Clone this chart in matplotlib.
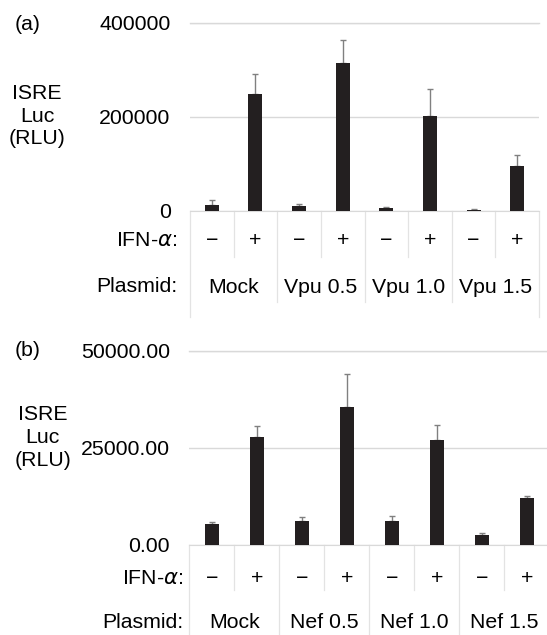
import matplotlib
matplotlib.use('Agg')
from matplotlib import pyplot as plt
import numpy as np

plt.rcParams['font.family'] = ['Liberation Sans', 'DejaVu Sans']
plt.rcParams['mathtext.fontset'] = 'dejavusans'

# panel (a): Vpu
vpu_groups = ['Mock', 'Vpu 0.5', 'Vpu 1.0', 'Vpu 1.5']
vpu_minus = [12800, 10600, 6400, 2100]
vpu_minus_err = [9300, 3700, 2100, 700]
vpu_plus = [248900, 313600, 201500, 95100]
vpu_plus_err = [42600, 49000, 56800, 23400]

# panel (b): Nef
nef_groups = ['Mock', 'Nef 0.5', 'Nef 1.0', 'Nef 1.5']
nef_minus = [5410, 6190, 6110, 2580]
nef_minus_err = [350, 950, 1210, 510]
nef_plus = [27760, 35570, 26980, 11960]
nef_plus_err = [2910, 8500, 3790, 670]

W, H = 547, 635
FS = 15.3
BAR = '#231f20'
GRID = '#d9d9d9'
ERR = '#808080'

fig = plt.figure(figsize=(W/100, H/100), dpi=100)

def px(x, y):
    return x/W, 1 - y/H

def panel(rect, groups, minus, minus_err, plus, plus_err, ymax, ticks, labels,
          ifn_y, plas_y, short_y, group_y, edge_y):
    ax = fig.add_axes(rect)
    vals = []
    errs = []
    for m, me, p, pe in zip(minus, minus_err, plus, plus_err):
        vals += [m, p]
        errs += [me, pe]
    vals = np.array(vals)
    errs = np.array(errs)
    x = np.arange(len(vals))
    ax.bar(x, vals, width=0.32, color=BAR, zorder=3)
    ax.errorbar(x, vals, yerr=[np.zeros_like(errs), errs], fmt='none',
                ecolor=ERR, elinewidth=1, capsize=2.5, capthick=1, zorder=2)
    ax.set_xlim(-0.5, len(vals) - 0.5)
    ax.set_ylim(0, ymax)
    ax.set_yticks(ticks)
    ax.set_yticklabels(labels, fontsize=FS)
    ax.tick_params(axis='y', length=0, pad=14)
    ax.set_xticks([])
    ax.grid(axis='y', color=GRID, lw=1, zorder=0)
    for s in ['left', 'right', 'top']:
        ax.spines[s].set_visible(False)
    ax.spines['bottom'].set_color(GRID)
    ax.axhline(ymax, color=GRID, lw=1, zorder=0, clip_on=False)

    tr = ax.get_xaxis_transform()
    for k in range(len(vals) + 1):
        xk = k - 0.5
        if k == 0 or k == len(vals):
            yb = edge_y
        elif k % 2 == 0:
            yb = group_y
        else:
            yb = short_y
        ax.plot([xk, xk], [0, yb], color='#e3e3e3', lw=0.9,
                transform=tr, clip_on=False)
    for i in range(len(vals)):
        ax.text(i, ifn_y, '\u2212' if i % 2 == 0 else '+', transform=tr,
                ha='center', va='center', fontsize=FS)
    for g, name in enumerate(groups):
        ax.text(2*g + 0.5, plas_y, name, transform=tr,
                ha='center', va='center', fontsize=FS)
    return ax

# (a)
panel([190/W, 1 - 210.7/H, 349/W, 188/H], vpu_groups, vpu_minus, vpu_minus_err,
      vpu_plus, vpu_plus_err, 400000, [0, 200000, 400000],
      ['0', '200000', '400000'],
      -0.16, -0.41, -0.245, -0.484, -0.564)
fig.text(*px(15, 24), '(a)', ha='left', va='center', fontsize=FS)
fig.text(*px(37, 116), 'ISRE\nLuc\n(RLU)', ha='center', va='center',
         fontsize=FS, linespacing=1.25)
fig.text(*px(177, 240.7), r'IFN-$\alpha$:', ha='right', va='center', fontsize=FS)
fig.text(*px(177, 287), 'Plasmid:', ha='right', va='center', fontsize=FS)

# (b)
panel([189.3/W, 1 - 544.7/H, 360/W, 194/H], nef_groups, nef_minus, nef_minus_err,
      nef_plus, nef_plus_err, 50000, [0, 25000, 50000],
      ['0.00', '25000.00', '50000.00'],
      -0.173, -0.40, -0.2335, -0.48, -0.48)
fig.text(*px(15, 351), '(b)', ha='left', va='center', fontsize=FS)
fig.text(*px(42.7, 437.3), 'ISRE\nLuc\n(RLU)', ha='center', va='center',
         fontsize=FS, linespacing=1.25)
fig.text(*px(183, 578.3), r'IFN-$\alpha$:', ha='right', va='center', fontsize=FS)
fig.text(*px(183, 622), 'Plasmid:', ha='right', va='center', fontsize=FS)

fig.savefig('out.png', dpi=100)
